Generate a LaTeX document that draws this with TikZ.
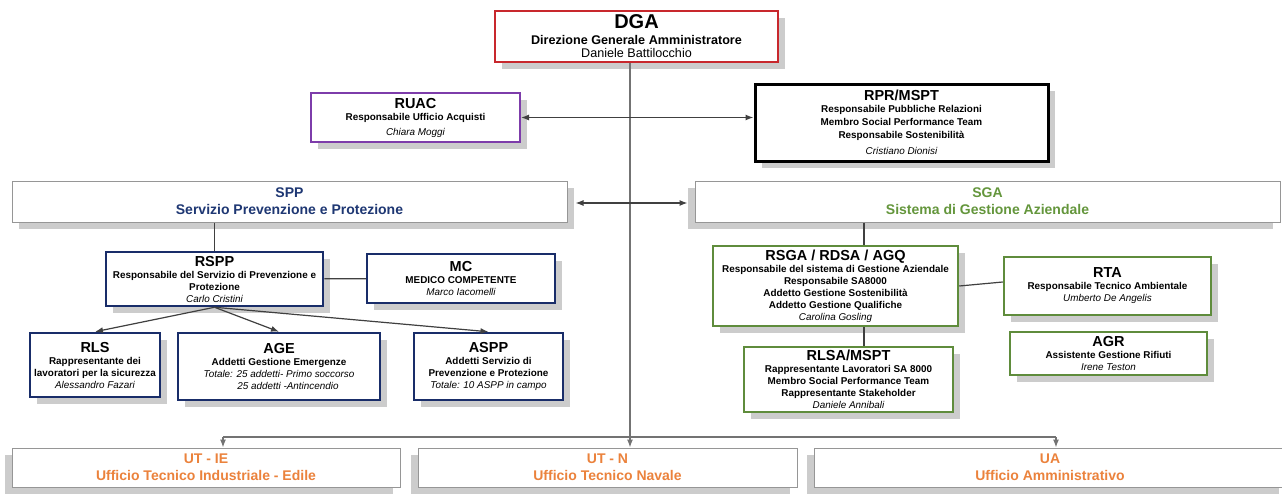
\documentclass[tikz,border=0pt]{standalone}
\usepackage{fontspec}
\setmainfont{Liberation Sans}
\usetikzlibrary{shadows,arrows.meta}

\definecolor{dgared}{RGB}{200,40,45}
\definecolor{ruacpurple}{RGB}{125,60,170}
\definecolor{sppnavy}{RGB}{30,55,115}
\definecolor{boxnavy}{RGB}{25,45,105}
\definecolor{sgagreen}{RGB}{100,150,60}
\definecolor{boxgreen}{RGB}{95,140,60}
\definecolor{utorange}{RGB}{235,130,60}
\definecolor{framegray}{RGB}{150,150,150}

\newcommand{\bigheadfont}{\fontsize{20}{22}\selectfont\bfseries}
\newcommand{\headfont}{\fontsize{14.5}{16}\selectfont\bfseries}
\newcommand{\dgafont}{\fontsize{12.6}{14}\selectfont}
\newcommand{\rolefont}{\fontsize{9.9}{12}\selectfont\bfseries}
\newcommand{\namefont}{\fontsize{9.9}{12}\selectfont\mdseries\itshape}
\newcommand{\unitfont}{\fontsize{14}{17}\selectfont\bfseries}

\tikzset{
  shadowR/.style={drop shadow={shadow xshift=7pt, shadow yshift=-7pt, fill=black!20, opacity=1}},
  shadowL/.style={drop shadow={shadow xshift=-7pt, shadow yshift=-7pt, fill=black!20, opacity=1}},
  orgbox/.style={draw, fill=white, align=center, inner sep=1pt, font=\rolefont},
  redbox/.style={orgbox, shadowR, draw=dgared, line width=2pt},
  purplebox/.style={orgbox, shadowR, draw=ruacpurple, line width=2pt},
  blackbox/.style={orgbox, shadowR, draw=black, line width=3pt},
  bluebox/.style={orgbox, shadowR, draw=boxnavy, line width=2.5pt},
  greenbox/.style={orgbox, shadowR, draw=boxgreen, line width=2.5pt},
  unitbox/.style={orgbox, draw=framegray, line width=1pt, font=\unitfont},
  link/.style={line width=1.2pt, black!75},
}

\begin{document}
\begin{tikzpicture}[x=1pt, y=-1pt, >={Latex[length=8pt,width=6pt]}]
  \useasboundingbox (0,0) rectangle (1282,495);
  \clip (0,0) rectangle (1282,495);
  \fill[white] (0,0) rectangle (1282,495);

  % top level
  \node[redbox, minimum width=283pt, minimum height=51pt] (dga) at (636.5,36.5)
    {{\bigheadfont DGA}\\[4pt]{\dgafont\bfseries Direzione Generale Amministratore}\\[1pt]
     {\dgafont\mdseries Daniele Battilocchio}};
  \node[purplebox, minimum width=209pt, minimum height=49pt] (ruac) at (415.5,117.5)
    {{\headfont RUAC}\\Responsabile Ufficio Acquisti\\[3pt]{\namefont Chiara Moggi}};
  \node[blackbox, minimum width=293pt, minimum height=77pt] (rpr) at (901.5,122.5)
    {{\headfont RPR/MSPT}\\Responsabile Pubbliche Relazioni\\[1pt]Membro Social Performance Team\\[1pt]
     Responsabile Sostenibilità\\[4pt]{\namefont Cristiano Dionisi}};

  % services
  \node[unitbox, shadowR, minimum width=555pt, minimum height=41pt, text=sppnavy] (spp) at (289.5,201.5)
    {SPP\\Servizio Prevenzione e Protezione};
  \node[unitbox, shadowL, minimum width=585pt, minimum height=41pt, text=sgagreen] (sga) at (987.5,201.5)
    {SGA\\Sistema di Gestione Aziendale};

  % SPP branch
  \node[bluebox, minimum width=217pt, minimum height=54pt] (rspp) at (214.5,279)
    {{\headfont RSPP}\\Responsabile del Servizio di Prevenzione e\\Protezione\\{\namefont Carlo Cristini}};
  \node[bluebox, minimum width=188pt, minimum height=49pt] (mc) at (461,278.5)
    {{\headfont MC}\\MEDICO COMPETENTE\\{\namefont Marco Iacomelli}};
  \node[bluebox, minimum width=130pt, minimum height=64pt] (rls) at (95,365)
    {{\headfont RLS}\\Rappresentante dei\\lavoratori per la sicurezza\\{\namefont Alessandro Fazari}};
  \node[bluebox, minimum width=202pt, minimum height=67pt] (age) at (279,366.5)
    {{\headfont AGE}\\Addetti Gestione Emergenze\\{\namefont Totale: 25 addetti- Primo soccorso}\\
     {\namefont\hspace*{18pt}25 addetti -Antincendio}};
  \node[bluebox, minimum width=149pt, minimum height=67pt] (aspp) at (488.5,366.5)
    {{\headfont ASPP}\\Addetti Servizio di\\Prevenzione e Protezione\\{\namefont Totale: 10 ASPP in campo}};

  % SGA branch
  \node[greenbox, minimum width=245pt, minimum height=80pt] (rsga) at (835.5,286)
    {{\headfont RSGA / RDSA / AGQ}\\Responsabile del sistema di Gestione Aziendale\\Responsabile SA8000\\
     Addetto Gestione Sostenibilità\\Addetto Gestione Qualifiche\\{\namefont Carolina Gosling}};
  \node[greenbox, minimum width=207pt, minimum height=58pt] (rta) at (1107.5,286)
    {{\headfont RTA}\\Responsabile Tecnico Ambientale\\{\namefont Umberto De Angelis}};
  \node[greenbox, minimum width=197pt, minimum height=43pt] (agr) at (1108.5,353.5)
    {{\headfont AGR}\\Assistente Gestione Rifiuti\\{\namefont Irene Teston}};
  \node[greenbox, minimum width=209pt, minimum height=65pt] (rlsa) at (848.5,379.5)
    {{\headfont RLSA/MSPT}\\Rappresentante Lavoratori SA 8000\\Membro Social Performance Team\\
     Rappresentante Stakeholder\\{\namefont Daniele Annibali}};

  % technical offices
  \node[unitbox, shadowL, minimum width=388pt, minimum height=39pt, text=utorange] (utie) at (206,467.5)
    {UT - IE\\Ufficio Tecnico Industriale - Edile};
  \node[unitbox, shadowL, minimum width=379pt, minimum height=39pt, text=utorange] (utn) at (607.5,467.5)
    {UT - N\\Ufficio Tecnico Navale};
  \node[unitbox, shadowL, minimum width=472pt, minimum height=39pt, text=utorange] (ua) at (1050,467.5)
    {UA\\Ufficio Amministrativo};

  \coordinate (trunk) at (630,0);
  \coordinate (spine) at (864,0);
  \coordinate (busL) at (223,437);
  \coordinate (busR) at (1056,437);

  \draw[link, black!55] (dga.south -| trunk) edge[->] (utn.north -| trunk);
  \draw[link, <->] (ruac.east) -- (ruac.east -| rpr.west);
  \draw[link, <->, shorten <=8pt, shorten >=7pt] (spp.east |- 0,203) -- (sga.west |- 0,203);

  \draw[link] (spp.south -| rspp.north) -- (rspp.north);
  \draw[link] (rspp) -- (mc);
  \draw[link, ->] (rspp.south) -- (rls.north);
  \draw[link, ->] (rspp.south) -- (age.north);
  \draw[link, ->] (rspp.south) -- (aspp.north);

  \draw[link] (sga.south -| spine) -- (rsga.north -| spine);
  \draw[link] (rsga.south -| spine) -- (rlsa.north -| spine);
  \draw[link] (rsga.east) -- (rta.west |- 0,282);

  \draw[link, black!55] (busL) -- (busR);
  \draw[link, black!55, ->] (busL) -- (busL |- utie.north);
  \draw[link, black!55, ->] (busR) -- (busR |- ua.north);
\end{tikzpicture}
\end{document}
